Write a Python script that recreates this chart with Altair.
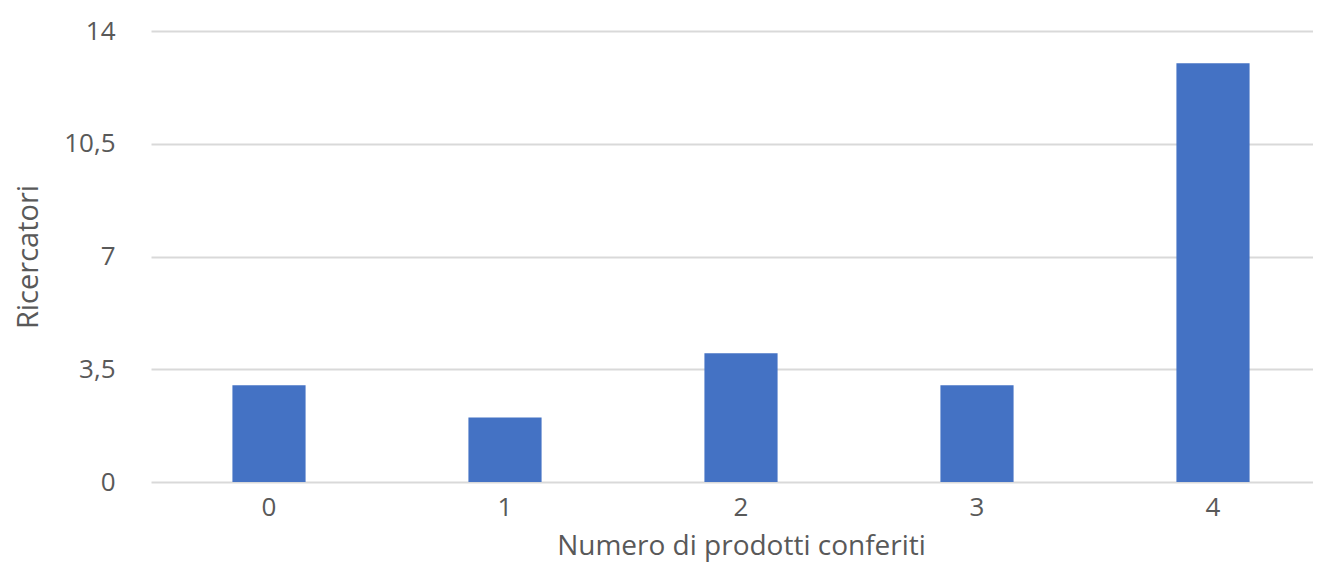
import altair as alt
import pandas as pd

categories = ["0", "1", "2", "3", "4"]
values = [3, 2, 4, 3, 13]
y_ticks = [0, 3.5, 7, 10.5, 14]

df = pd.DataFrame({"cat": categories, "val": values})

FONT = "Open Sans"
TEXT = "#595959"

chart = alt.Chart(df).mark_bar(color="#4472C4").encode(
    x=alt.X(
        "cat:N",
        sort=categories,
        title="Numero di prodotti conferiti",
        scale=alt.Scale(range=[0, 1180], paddingInner=0.69, paddingOuter=0.345),
        axis=alt.Axis(
            labelAngle=0, domain=False, ticks=False, tickSize=0, grid=False,
            labelPadding=12, titlePadding=12,
            labelFontSize=26, titleFontSize=28,
            labelColor=TEXT, titleColor=TEXT,
            labelFont=FONT, titleFont=FONT, titleFontWeight="normal",
        ),
    ),
    y=alt.Y(
        "val:Q",
        title="Ricercatori",
        scale=alt.Scale(domain=[0, 14], nice=False),
        axis=alt.Axis(
            values=y_ticks, domain=False, ticks=False, tickSize=0,
            grid=True, gridColor="#D9D9D9", gridWidth=2,
            labelExpr="replace(toString(datum.value), '.', ',')",
            labelPadding=36, titlePadding=20,
            labelFontSize=26, titleFontSize=29,
            labelColor=TEXT, titleColor=TEXT,
            labelFont=FONT, titleFont=FONT, titleFontWeight="normal",
        ),
    ),
).properties(
    width=1162,
    height=451,
    autosize=alt.AutoSizeParams(type="none"),
    padding={"left": 143, "top": 23, "right": 0, "bottom": 83},
).configure_view(stroke=None)

chart.save("out.html", embed_options={"renderer": "svg", "actions": False})
